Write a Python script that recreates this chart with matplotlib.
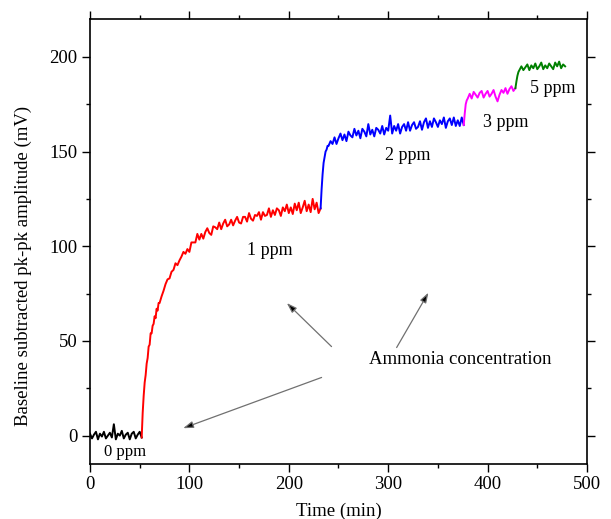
import numpy as np
import matplotlib
matplotlib.use("Agg")
import matplotlib.pyplot as plt
from matplotlib.ticker import MultipleLocator

# ---------------- data ----------------
t_0ppm = np.arange(0, 53, 2)
y_0ppm = [1, -1.5, 0.5, 2, -2, 1, -0.5, 2, -1.5, 0,
          1.5, -1, 6, -2, 1, 0, 2.5, -1.5, 0.5, 1.5,
          -2, 1, 2, -1.5, 0.5, 2, -1]

t_1ppm = np.concatenate([np.arange(52, 71), np.arange(72, 233, 2)])
y_1ppm = [-1, 12, 21, 28, 32, 38, 41, 47, 48, 54, 54, 58, 59, 63, 62, 67, 66, 70, 70,
          73.5, 76.5, 80, 82.5, 83, 86.5, 87.5, 91, 90, 92.5,
          94.5, 97, 96, 98.5, 97, 102, 102, 102, 106.5, 103.5,
          106.5, 104, 107.5, 109.5, 107, 106, 110.5, 110, 109, 112.5,
          109, 112, 114, 110.5, 111.5, 114, 111, 113.5, 115.5, 112.5,
          112, 115.5, 115.5, 113, 117.5, 114.5, 113.5, 116.5, 116, 118,
          114, 118, 116, 116.5, 120, 115.5, 119, 116.5, 120, 119,
          116, 120.5, 118.5, 122, 117.5, 120.5, 117, 122.5, 119, 123,
          117.5, 120.5, 124, 118.5, 122, 118, 125, 119.5, 123, 117.5,
          120]

t_2ppm = np.concatenate([np.arange(232, 241), np.arange(242, 377, 2)])
y_2ppm = [120, 130, 138, 144, 147, 150, 151, 153, 153,
          155.5, 154, 157.5, 154, 157, 159.5, 156, 159, 155.5, 160.5,
          158.5, 157.5, 162, 158.5, 161, 157, 162, 160.5, 158, 164.5,
          159, 161.5, 158, 162.5, 161.5, 159.5, 163.5, 159, 162.5, 161,
          169, 159.5, 163.5, 161, 164.5, 159.5, 163, 164.5, 161, 165.5,
          161, 164, 165.5, 162, 163, 166, 161.5, 165.5, 167.5, 162.5,
          166, 163, 167.5, 165.5, 163, 166.5, 164.5, 168, 162.5, 166,
          167.5, 164, 168, 163.5, 166.5, 163.5, 168, 164]

t_3ppm = np.concatenate([np.arange(376, 381), np.arange(382, 429, 2)])
y_3ppm = [164, 170, 175, 177, 178,
          180.5, 178, 181.5, 180, 178.5, 181, 182, 178.5, 180.5, 182,
          179, 180.5, 182.5, 179, 176.5, 180, 182.5, 181, 183.5, 180.5,
          183, 184.5, 182, 183.5]

t_5ppm = np.concatenate([np.arange(428, 433), np.arange(434, 479, 2)])
y_5ppm = [183.5, 187, 190, 192, 193,
          195, 193, 194.5, 196, 193, 195.5, 194, 196.5, 193.5, 195,
          197, 193.5, 195.5, 194, 196.5, 195, 193.5, 197, 195, 197.5,
          194, 196, 195]

series = [
    (t_0ppm, y_0ppm, "black"),
    (t_1ppm, y_1ppm, "#ff0000"),
    (t_2ppm, y_2ppm, "#0000ff"),
    (t_3ppm, y_3ppm, "#ff00ff"),
    (t_5ppm, y_5ppm, "#008000"),
]

labels = ["0 ppm", "1 ppm", "2 ppm", "3 ppm", "5 ppm"]
label_xy = [(35, -8.5), (181, 98), (320, 148), (418, 165.5), (466, 183.5)]

x_ticks = [0, 100, 200, 300, 400, 500]
y_ticks = [0, 50, 100, 150, 200]

# ---------------- figure ----------------
plt.rcParams["font.family"] = ["Liberation Serif", "DejaVu Serif"]
fig = plt.figure(figsize=(6.11, 5.19), dpi=100)
ax = fig.add_axes([0.1473, 0.106, 0.9607 - 0.1473, 0.9634 - 0.106])

for t, y, c in series:
    assert len(t) == len(y), (len(t), len(y))
    ax.plot(t, y, color=c, lw=1.4)

ax.set_xlim(0, 500)
ax.set_ylim(-15, 220)
ax.set_xticks(x_ticks)
ax.set_yticks(y_ticks)
ax.xaxis.set_minor_locator(MultipleLocator(50))
ax.yaxis.set_minor_locator(MultipleLocator(25))
ax.tick_params(which="both", direction="out", top=True, right=True,
               labeltop=False, labelright=False, width=1.0)
ax.tick_params(which="major", length=6, labelsize=13.5, pad=3)
ax.tick_params(which="minor", length=3)
for s in ax.spines.values():
    s.set_linewidth(1.2)

ax.set_xlabel("Time (min)", fontsize=13.5)
ax.set_ylabel("Baseline subtracted pk-pk amplitude (mV)", fontsize=13.5)
ax.xaxis.set_label_coords(0.5, -0.087)
ax.yaxis.set_label_coords(-0.116, 0.445)

for lab, (lx, ly) in zip(labels, label_xy):
    ax.text(lx, ly, lab, fontsize=13 if lab != "0 ppm" else 12,
            ha="center", va="center")

ax.text(372, 40, "Ammonia concentration", fontsize=13.5, ha="center", va="center")

arrows = [((243, 47), (198, 70)), ((308.5, 46.5), (340.5, 75.5)), ((233, 30.7), (93.7, 3.9))]
for (tail, head) in arrows:
    ax.annotate("", xy=head, xytext=tail,
                arrowprops=dict(arrowstyle="-|>,head_length=0.6,head_width=0.2",
                                ec="#707070", fc="black", lw=0.9,
                                shrinkA=0, shrinkB=0))

fig.savefig("out.png", dpi=100)
